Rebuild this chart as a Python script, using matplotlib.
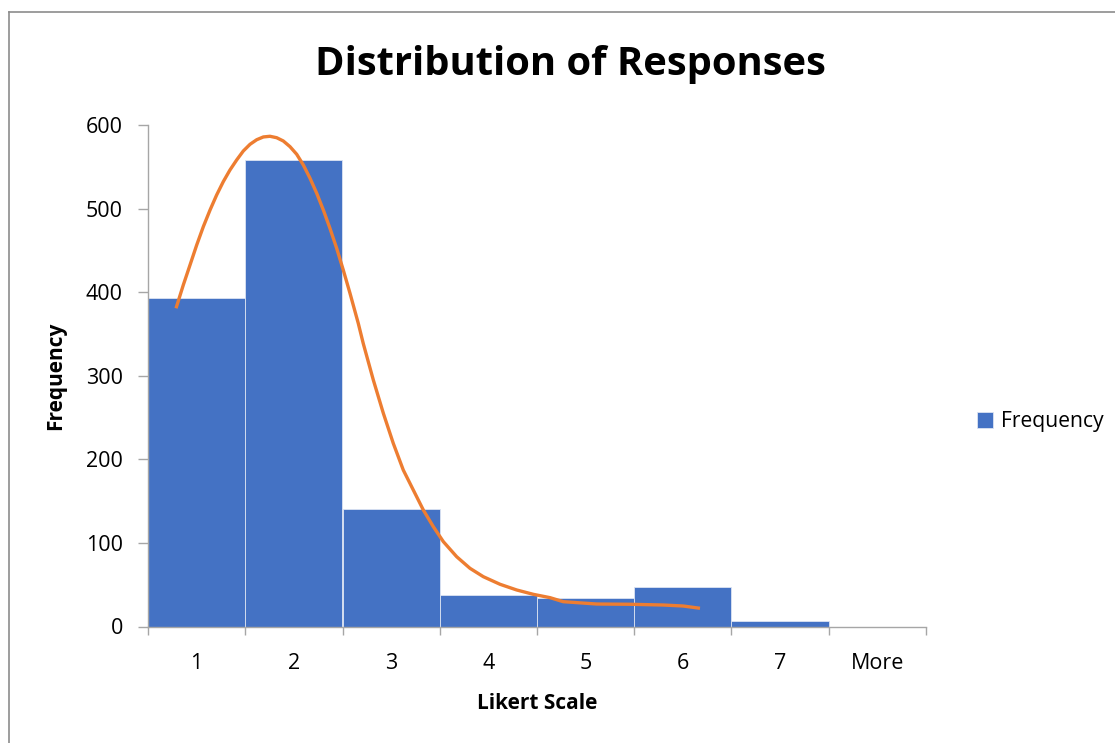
import matplotlib
matplotlib.use("Agg")
import matplotlib.pyplot as plt
from matplotlib.lines import Line2D

categories = ["1", "2", "3", "4", "5", "6", "7", "More"]
frequency = [393, 558, 141, 38, 34, 47, 7, 0]

# smooth trend curve (x in category units, 1 = first category)
curve_x = [0.788, 0.863, 0.932, 1.001, 1.069, 1.138, 1.206, 1.274, 1.343, 1.412,
           1.480, 1.549, 1.618, 1.686, 1.754, 1.823, 1.891, 1.960, 2.029, 2.097,
           2.166, 2.235, 2.303, 2.371, 2.440, 2.508, 2.577, 2.662, 2.713, 2.817,
           2.920, 3.022, 3.125, 3.228, 3.331, 3.434, 3.537, 3.674, 3.811, 3.948,
           4.120, 4.291, 4.462, 4.634, 4.770, 5.114, 5.456, 5.799, 6.004, 6.176]
curve_y = [380.7, 408.6, 432.5, 456.5, 478.4, 498.3, 516.3, 532.2, 546.2, 558.2,
           568.9, 576.9, 582.4, 585.7, 586.5, 584.8, 580.9, 574.1, 565.0, 552.2,
           536.3, 518.3, 498.3, 476.4, 452.5, 426.5, 398.7, 362.8, 338.8, 294.9,
           255.1, 219.2, 187.2, 163.3, 139.4, 119.4, 101.5, 83.5, 69.6, 59.6,
           50.5, 43.7, 38.5, 34.5, 29.7, 26.9, 26.6, 25.7, 24.5, 21.8]

W, H = 1115, 743
plt.rcParams['font.family'] = ['Open Sans', 'DejaVu Sans']
fig = plt.figure(figsize=(W / 100, H / 100), dpi=100)
ax = fig.add_axes([148 / W, 1 - 626.5 / H, (926 - 148) / W, (626.5 - 125) / H])

blue = "#4472C4"
orange = "#ED7D31"
grey = "#A6A6A6"

xs = list(range(1, len(categories) + 1))
ax.bar(xs, frequency, width=1.0, color=blue, edgecolor="#DCE4F2", linewidth=0.6,
       label="Frequency", zorder=2)
ax.plot(curve_x, curve_y, color=orange, linewidth=2.4, solid_capstyle="butt",
        solid_joinstyle="round", zorder=3)

ax.set_xlim(0.5, len(categories) + 0.5)
ax.set_ylim(0, 600)
ax.set_yticks(range(0, 601, 100))
ax.set_xticks(xs)
ax.set_xticklabels(categories)
ax.set_xticks([x + 0.5 for x in range(0, len(categories) + 1)], minor=True)

for s in ["top", "right"]:
    ax.spines[s].set_visible(False)
for s in ["left", "bottom"]:
    ax.spines[s].set_color(grey)
    ax.spines[s].set_linewidth(1.0)

ax.tick_params(axis="x", which="major", length=0, pad=19, labelsize=15.5)
ax.tick_params(axis="x", which="minor", length=6, color=grey, width=1.0)
ax.tick_params(axis="y", which="major", length=7, color=grey, width=1.0, pad=11,
               labelsize=15.5)

ax.set_xlabel("Likert Scale", fontsize=15, fontweight="bold", labelpad=14)
ax.set_ylabel("Frequency", fontsize=15, fontweight="bold", labelpad=14)

fig.text(570 / W, 1 - 64 / H, "Distribution of Responses", ha="center", va="center",
         fontsize=28.7, fontweight="bold")

fig.legend(loc="center left", bbox_to_anchor=(958 / W, 1 - 422 / H), frameon=False,
           fontsize=15.2, handlelength=0.75, handleheight=0.75, handletextpad=0.4)

# chart area border (top and left edges visible)
fig.add_artist(Line2D([9 / W, 1.0], [1 - 12 / H, 1 - 12 / H], transform=fig.transFigure,
                      color="#8C8C8C", linewidth=1.2))
fig.add_artist(Line2D([9 / W, 9 / W], [0.0, 1 - 12 / H], transform=fig.transFigure,
                      color="#8C8C8C", linewidth=1.2))

fig.savefig("out.png", dpi=100)
